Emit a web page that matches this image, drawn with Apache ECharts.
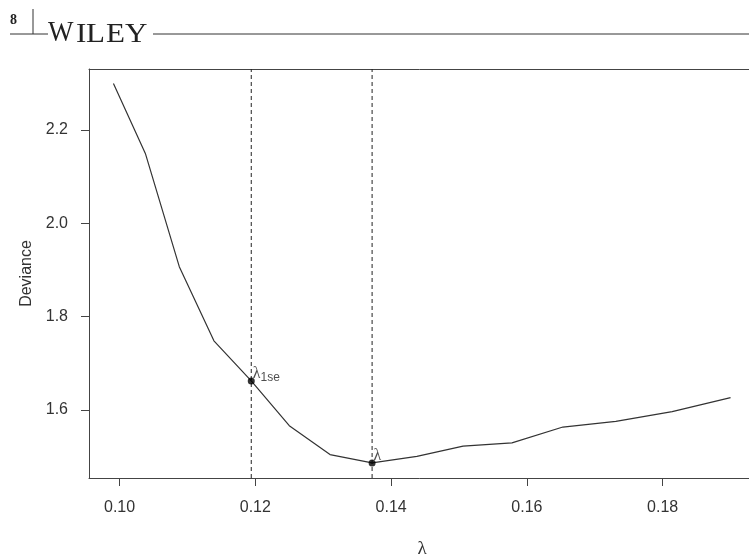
<!DOCTYPE html>
<html>
<head>
<meta charset="utf-8">
<script src="https://cdn.jsdelivr.net/npm/echarts@6/dist/echarts.min.js"></script>
<style>
  html, body { margin: 0; padding: 0; background: #fff; }
  #main { width: 749px; height: 556px; }
</style>
</head>
<body>
<div id="main"></div>
<script>
// lambda grid (x) and cross-validated deviance (y)
var lambdas = [0.0991, 0.1038, 0.1088, 0.1139, 0.1194, 0.1250, 0.1310, 0.1372,
               0.1438, 0.1506, 0.1578, 0.1653, 0.1731, 0.1814, 0.1900];
var deviance = [2.300, 2.150, 1.907, 1.748, 1.662, 1.566, 1.504, 1.486,
                1.500, 1.522, 1.529, 1.563, 1.575, 1.596, 1.626];

// picked lambdas
var lambda1se = 0.1194, dev1se = 1.662;
var lambdaMin = 0.1372, devMin = 1.486;

var xTicks = [0.10, 0.12, 0.14, 0.16, 0.18];
var yTicks = [1.6, 1.8, 2.0, 2.2];

var xMin = 0.0955, xMax = 0.1936;
var yMin = 1.4537, yMax = 2.331;
var axisCol = '#444';
var lineData = lambdas.map(function (l, i) { return [l, deviance[i]]; });

// dashed vertical guides, one small series each
function vline(x) {
  return {
    type: 'line',
    data: [[x, yMin], [x, yMax]],
    showSymbol: false,
    silent: true,
    lineStyle: { color: '#222', type: [4, 3], width: 1 },
    z: 2
  };
}

// Wiley header letters (left x of each)
var logoLetters = ['W', 'I', 'L', 'E', 'Y'];
var logoX = [48, 76, 86, 106, 125];

var graphics = [
  { type: 'line', shape: { x1: 10, y1: 34, x2: 48, y2: 34 }, style: { stroke: '#333', lineWidth: 1 } },
  { type: 'line', shape: { x1: 33, y1: 9, x2: 33, y2: 34 }, style: { stroke: '#333', lineWidth: 1 } },
  { type: 'line', shape: { x1: 153, y1: 34, x2: 749, y2: 34 }, style: { stroke: '#333', lineWidth: 1 } },
  { type: 'text', x: 10, y: 13, style: { text: '8', font: 'bold 14px "Liberation Serif"', fill: '#222' } }
];
logoLetters.forEach(function (ch, i) {
  graphics.push({
    type: 'text', x: logoX[i], y: 48,
    scaleX: i === 0 ? 0.9 : 1.15,
    style: {
      text: ch, textVerticalAlign: 'bottom', fill: '#222',
      font: (i === 0 ? '30px' : '27px') + ' "Liberation Serif"'
    }
  });
});

var myChart = echarts.init(document.getElementById('main'));
myChart.setOption({
  animation: false,
  backgroundColor: '#fff',
  grid: { left: 89, top: 69, width: 666, height: 409, outerBoundsMode: 'none', containLabel: false },
  xAxis: [{
    type: 'value',
    min: xMin, max: xMax,
    name: 'λ',
    nameLocation: 'middle',
    nameGap: 62,
    nameTextStyle: { fontFamily: 'Liberation Serif', fontSize: 19, color: '#333' },
    axisLine: { show: true, lineStyle: { color: axisCol } },
    axisTick: { show: true, length: 8, customValues: xTicks, lineStyle: { color: axisCol } },
    axisLabel: {
      customValues: xTicks, margin: 22, fontSize: 16, color: '#333',
      fontFamily: 'Liberation Sans',
      formatter: function (v) { return v.toFixed(2); }
    },
    splitLine: { show: false }
  }, {
    type: 'value',
    position: 'top',
    min: xMin, max: xMax,
    axisLine: { show: true, lineStyle: { color: axisCol } },
    axisTick: { show: false },
    axisLabel: { show: false },
    splitLine: { show: false }
  }],
  yAxis: {
    type: 'value',
    min: yMin, max: yMax,
    name: 'Deviance',
    nameLocation: 'middle',
    nameGap: 52,
    nameTextStyle: { fontFamily: 'Liberation Sans', fontSize: 16, color: '#333' },
    axisLine: { show: true, lineStyle: { color: axisCol } },
    axisTick: { show: true, length: 8, customValues: yTicks, lineStyle: { color: axisCol } },
    axisLabel: {
      customValues: yTicks, margin: 21, fontSize: 16, color: '#333',
      fontFamily: 'Liberation Sans',
      formatter: function (v) { return v.toFixed(1); }
    },
    splitLine: { show: false }
  },
  graphic: graphics,
  series: [
    vline(lambda1se),
    vline(lambdaMin),
    {
      type: 'line',
      data: lineData,
      showSymbol: false,
      lineStyle: { color: '#333', width: 1.2 },
      z: 3
    },
    {
      type: 'scatter',
      data: [[lambda1se, dev1se, '1se'], [lambdaMin, devMin, '']],
      symbolSize: 7,
      itemStyle: { color: '#000' },
      label: {
        show: true,
        position: [5, -13],
        formatter: function (p) { return '{l|λ}{s|' + p.value[2] + '}'; },
        rich: {
          l: { fontFamily: 'Liberation Serif', fontSize: 16, color: '#222' },
          s: { fontFamily: 'Liberation Sans', fontSize: 12, color: '#222', padding: [7, 0, 0, 0] }
        }
      },
      z: 4
    }
  ]
});
</script>
</body>
</html>
